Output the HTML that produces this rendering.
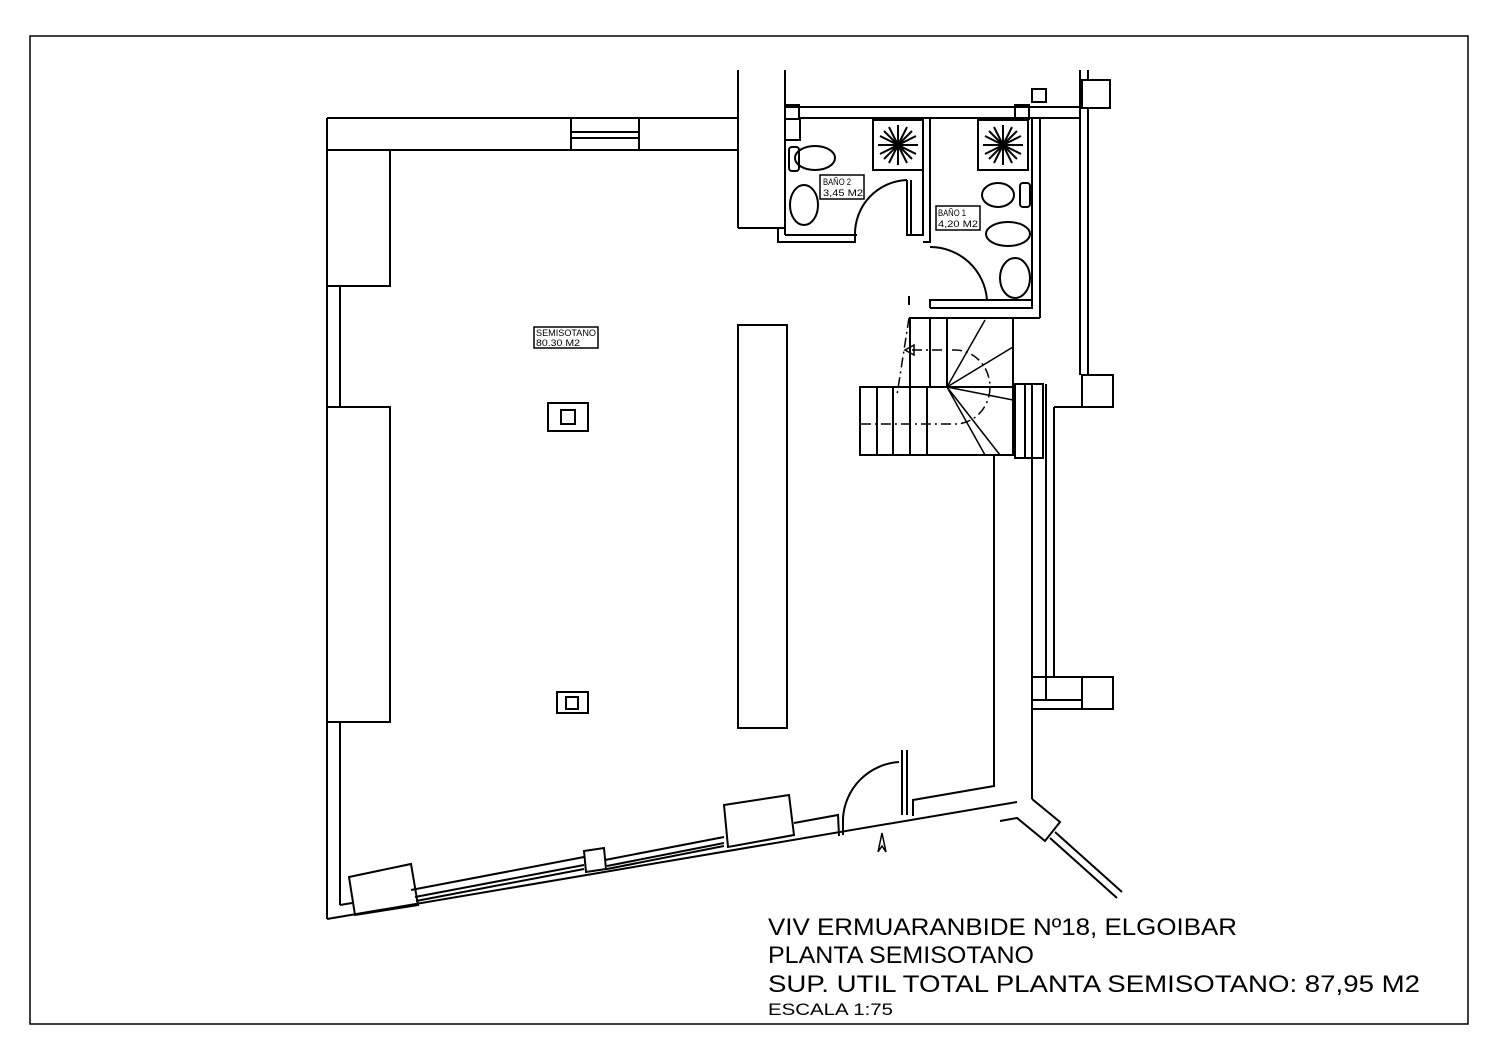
<!DOCTYPE html>
<html><head><meta charset="utf-8"><style>html,body{margin:0;padding:0;background:#fff}svg{display:block}</style></head><body>
<svg width="1500" height="1060" viewBox="0 0 1500 1060" xmlns="http://www.w3.org/2000/svg" font-family="Liberation Sans, sans-serif">
<rect x="0" y="0" width="1500" height="1060" fill="#fff"/>
<g fill="none" stroke="#000" stroke-width="2">
<rect x="30" y="36" width="1438" height="988" stroke-width="1.5"/>
<!-- top wall -->
<line x1="327" y1="118" x2="739" y2="118"/>
<line x1="340" y1="150" x2="739" y2="150"/>
<line x1="571" y1="118" x2="571" y2="150"/><line x1="639" y1="118" x2="639" y2="150"/>
<line x1="571" y1="132" x2="639" y2="132"/><line x1="571" y1="138" x2="639" y2="138"/>
<!-- left wall -->
<line x1="327" y1="118" x2="327" y2="919"/>
<rect x="327" y="150" width="63" height="136"/>
<line x1="340" y1="286" x2="340" y2="407"/>
<rect x="327" y="407" width="63" height="315"/>
<line x1="340" y1="722" x2="340" y2="905"/>
<!-- bottom wall -->
<polyline points="327,919 1017,802"/>
<polyline points="340,905 352,903"/>
<polygon points="349,877 411,864 418,905 355,915"/>
<polyline points="411,890 584,857"/>
<polyline points="415,897 584,865"/><polyline points="416,901 584,869"/>
<polygon points="584,851 604,848 606,869 586,872"/>
<polyline points="605,860 724,837"/>
<polyline points="607,866 724,843"/><polyline points="607,869 724,846"/>
<polygon points="724,805 789,795 794,835 728,847"/>
<polyline points="794,823 838,815 839,836"/>
<line x1="843" y1="818" x2="843" y2="835"/>
<line x1="902" y1="750" x2="902" y2="815"/><line x1="907" y1="750" x2="907" y2="815"/>
<path d="M843,818 A60,60 0 0 1 899,762"/>
<polyline points="913,816 913,800 994,786 994,455"/>
<!-- entry arrow -->
<polyline points="878,852 882,833 886,852 882,846 878,852" stroke-width="1.5"/>
<!-- right wall -->
<line x1="1032" y1="384" x2="1032" y2="799"/>
<line x1="1046" y1="384" x2="1046" y2="700"/>
<line x1="1054" y1="407" x2="1054" y2="677"/>
<line x1="1054" y1="407" x2="1082" y2="407"/>
<rect x="1082" y="375" width="31" height="32"/>
<rect x="1082" y="677" width="31" height="32"/>
<line x1="1032" y1="677" x2="1082" y2="677"/>
<line x1="1032" y1="700" x2="1082" y2="700"/>
<line x1="1032" y1="709" x2="1082" y2="709"/>
<polyline points="1032,799 1060,822 1045,841 1017,818 1000,821"/>
<line x1="1055" y1="832" x2="1122" y2="892"/>
<line x1="1050" y1="838" x2="1117" y2="898"/>
<!-- upper right -->
<line x1="1080" y1="70" x2="1080" y2="375"/>
<line x1="1088" y1="70" x2="1088" y2="80"/>
<line x1="1088" y1="107" x2="1088" y2="375"/>
<rect x="1082" y="80" width="28" height="28"/>
<rect x="1032" y="89" width="14" height="13"/>
<!-- bathroom block -->
<line x1="738" y1="70" x2="738" y2="228"/>
<line x1="785" y1="70" x2="785" y2="235"/>
<line x1="738" y1="228" x2="785" y2="228"/>
<line x1="785" y1="107" x2="1080" y2="107"/>
<line x1="800" y1="118" x2="1080" y2="118"/>
<rect x="785" y="105" width="14" height="14"/>
<rect x="1015" y="105" width="14" height="14"/>
<polyline points="785,140 800,140 800,118"/>
<polyline points="778,228 778,242 855,242 855,235 785,235"/>
<polyline points="855,235 857,235"/>
<path d="M855,235 A54,54 0 0 1 907,180"/>
<polyline points="907,180 907,235 923,235 923,118"/>
<line x1="911" y1="180" x2="911" y2="235"/>
<polyline points="930,118 930,242 923,242"/>
<line x1="1032" y1="118" x2="1032" y2="308"/>
<line x1="1040" y1="118" x2="1040" y2="318"/>
<polyline points="930,308 930,300 1032,300 1032,308 930,308"/>
<path d="M930,247 A57,57 0 0 1 987,300"/>
<line x1="909" y1="296" x2="909" y2="305"/>
<line x1="910" y1="318" x2="1040" y2="318"/>
<!-- showers -->
<rect x="873" y="120" width="50" height="50"/>
<rect x="978" y="120" width="50" height="50"/>
<!-- toilets etc -->
<rect x="789" y="147" width="10" height="24" rx="3"/>
<ellipse cx="815" cy="158" rx="20" ry="12"/>
<ellipse cx="804" cy="205" rx="14" ry="20"/>
<ellipse cx="998" cy="195" rx="16" ry="12"/><rect x="1020" y="183" width="10" height="24" rx="3"/>
<ellipse cx="1008" cy="234" rx="22" ry="12"/>
<ellipse cx="1015" cy="278" rx="15" ry="20"/>
<!-- stairs -->
<rect x="910" y="318" width="103" height="69"/>
<line x1="930" y1="318" x2="930" y2="387"/><line x1="947" y1="318" x2="947" y2="387"/>
<rect x="860" y="387" width="153" height="68"/>
<line x1="877" y1="387" x2="877" y2="455"/><line x1="893" y1="387" x2="893" y2="455"/>
<line x1="910" y1="387" x2="910" y2="455"/><line x1="927" y1="387" x2="927" y2="455"/>
<g stroke-width="1.5">
<line x1="947" y1="387" x2="985" y2="320"/><line x1="947" y1="387" x2="1013" y2="347"/>
<line x1="947" y1="387" x2="1013" y2="400"/><line x1="947" y1="387" x2="1000" y2="455"/>
<line x1="947" y1="387" x2="985" y2="455"/>
<path d="M912,350 H955 A35,37 0 0 1 955,424 H860" stroke-dasharray="10,4,2,4"/>
<line x1="909" y1="318" x2="897" y2="395" stroke-dasharray="10,4,2,4"/>
<polygon points="905,350 914,345 914,355"/>
</g>
<rect x="1015" y="384" width="28" height="74"/>
<line x1="1025" y1="384" x2="1025" y2="458"/>
<!-- central column & squares -->
<rect x="738" y="325" width="49" height="403"/>
<rect x="548" y="403" width="40" height="28"/><rect x="561" y="410" width="14" height="14"/>
<rect x="557" y="692" width="31" height="21"/><rect x="566" y="697" width="12" height="12"/>
<!-- label boxes -->
<rect x="534" y="327" width="64" height="21" stroke-width="1.5"/>
<rect x="820" y="175" width="44" height="24" stroke-width="1.5"/>
<rect x="936" y="206" width="44" height="24" stroke-width="1.5"/>
</g>
<!-- shower rays -->
<g stroke="#000" stroke-width="2">
<path d="M898,125 V165 M878,145 H918 M884,131 L912,159 M912,131 L884,159 M889,127 L907,163 M907,127 L889,163 M880,136 L916,154 M916,136 L880,154"/>
<path d="M1003,125 V165 M983,145 H1023 M989,131 L1017,159 M1017,131 L989,159 M994,127 L1012,163 M1012,127 L994,163 M985,136 L1021,154 M1021,136 L985,154"/>
</g>
<g font-size="9" fill="#000">
<text x="536" y="336" textLength="60" lengthAdjust="spacingAndGlyphs">SEMISOTANO</text>
<text x="536" y="346" textLength="44" lengthAdjust="spacingAndGlyphs">80.30  M2</text>
<text x="823" y="185" textLength="28" lengthAdjust="spacingAndGlyphs">BAÑO 2</text>
<text x="823" y="196" textLength="40" lengthAdjust="spacingAndGlyphs">3,45  M2</text>
<text x="938" y="216" textLength="28" lengthAdjust="spacingAndGlyphs">BAÑO 1</text>
<text x="938" y="227" textLength="40" lengthAdjust="spacingAndGlyphs">4,20  M2</text>
</g>
<g fill="#000">
<text x="768" y="935" font-size="24" textLength="469" lengthAdjust="spacingAndGlyphs">VIV  ERMUARANBIDE  Nº18,  ELGOIBAR</text>
<text x="768" y="963" font-size="24" textLength="266" lengthAdjust="spacingAndGlyphs">PLANTA  SEMISOTANO</text>
<text x="768" y="992" font-size="24" textLength="652" lengthAdjust="spacingAndGlyphs">SUP.  UTIL  TOTAL  PLANTA  SEMISOTANO:  87,95  M2</text>
<text x="768" y="1015" font-size="17" textLength="125" lengthAdjust="spacingAndGlyphs">ESCALA  1:75</text>
</g>
</svg>
</body></html>
